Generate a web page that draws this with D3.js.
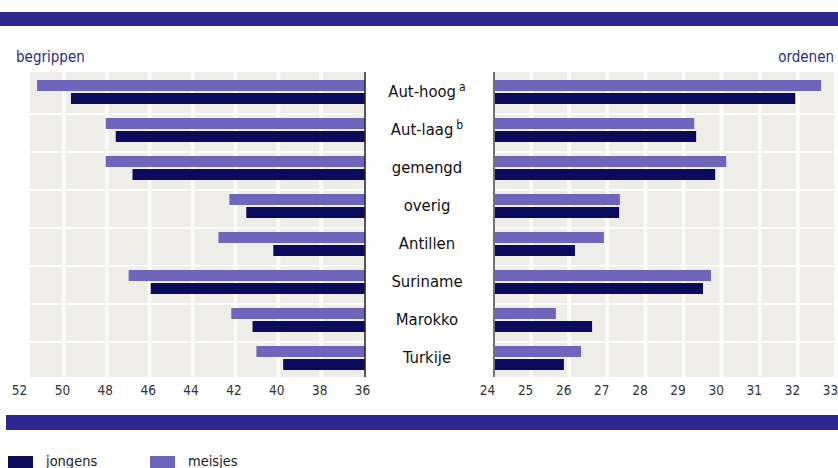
<!DOCTYPE html>
<html>
<head>
  <meta charset="utf-8">
  <script src="https://d3js.org/d3.v7.min.js"></script>
  <style>
    body { margin: 0; background: #fff; }
  </style>
</head>
<body>
<script>
var categories = ["Aut-hoog", "Aut-laag", "gemengd", "overig", "Antillen", "Suriname", "Marokko", "Turkije"];
var superscripts = ["a", "b", "", "", "", "", "", ""];
var begrippenMeisjes = [51.25, 48.05, 48.05, 42.28, 42.79, 46.98, 42.19, 41.02];
var begrippenJongens = [49.67, 47.58, 46.8, 41.49, 40.23, 45.95, 41.2, 39.77];
var ordenenMeisjes = [32.61, 29.28, 30.12, 27.33, 26.91, 29.72, 25.65, 26.31];
var ordenenJongens = [31.93, 29.33, 29.83, 27.31, 26.15, 29.51, 26.6, 25.86];
var leftTicks = [52, 50, 48, 46, 44, 42, 40, 38, 36];
var rightTicks = [24, 25, 26, 27, 28, 29, 30, 31, 32, 33];

var W = 838, H = 468;
var navy = "#0b0b5c", purple = "#6e66bc", band = "#2c2890";
var condensed = "'Liberation Sans Narrow', 'DejaVu Sans Condensed', sans-serif";

var svg = d3.select("body").append("svg")
  .attr("width", W)
  .attr("height", H);

// blue bands
svg.append("rect").attr("x", 0).attr("y", 12).attr("width", W).attr("height", 14).attr("fill", band);
svg.append("rect").attr("x", 6).attr("y", 415).attr("width", W - 6).attr("height", 15).attr("fill", band);

var xL = d3.scaleLinear().domain([52, 36]).range([21, 364]);
var xR = d3.scaleLinear().domain([24, 33]).range([493, 836]);
var y = d3.scaleBand().domain(categories).range([76, 380]).paddingInner(0).paddingOuter(0);

var panelTop = 72, panelBottom = 377;
var bg = "#efede7", gap = "#fbfbf9";

// panel backgrounds
svg.append("rect").attr("x", 30).attr("y", panelTop).attr("width", 335).attr("height", panelBottom - panelTop).attr("fill", bg);
svg.append("rect").attr("x", 494).attr("y", panelTop).attr("width", W - 494).attr("height", panelBottom - panelTop).attr("fill", bg);

svg.selectAll(".vgl").data(leftTicks.slice(1, -1)).enter().append("rect")
  .attr("x", function(d) { return xL(d) - 2; })
  .attr("y", panelTop).attr("width", 4).attr("height", panelBottom - panelTop).attr("fill", gap);
svg.selectAll(".vgr").data(rightTicks.slice(1)).enter().append("rect")
  .attr("x", function(d) { return xR(d) - 2; })
  .attr("y", panelTop).attr("width", 4).attr("height", panelBottom - panelTop).attr("fill", gap);

svg.selectAll(".hg").data(categories.slice(1)).enter().append("rect")
  .attr("x", 30).attr("width", W - 30)
  .attr("y", function(d) { return y(d) - 1; })
  .attr("height", 2).attr("fill", gap);
svg.append("rect").attr("x", 366).attr("y", 60).attr("width", 127).attr("height", 330).attr("fill", "#fff");

var bh = 11;

function bars(data, scale, base, offset, color, cls) {
  svg.selectAll("." + cls).data(data).enter().append("rect")
    .attr("class", cls)
    .attr("x", function(d) { return Math.min(base, scale(d)); })
    .attr("width", function(d) { return Math.abs(scale(d) - base); })
    .attr("y", function(d, i) { return y(categories[i]) + offset; })
    .attr("height", bh)
    .attr("fill", color);
}
bars(begrippenMeisjes, xL, 365, 4, purple, "lm");
bars(begrippenJongens, xL, 365, 17, navy, "lj");
bars(ordenenMeisjes, xR, 495, 4, purple, "rm");
bars(ordenenJongens, xR, 495, 17, navy, "rj");

// axis lines
svg.append("line").attr("x1", 365).attr("x2", 365).attr("y1", panelTop).attr("y2", panelBottom).attr("stroke", "#222").attr("stroke-width", 1.5);
svg.append("line").attr("x1", 494).attr("x2", 494).attr("y1", panelTop).attr("y2", panelBottom).attr("stroke", "#444").attr("stroke-width", 1.5);

// tick labels
var axL = svg.append("g").attr("transform", "translate(-2," + 385 + ")")
  .call(d3.axisBottom(xL).tickValues(leftTicks).tickSize(0).tickPadding(0));
var axR = svg.append("g").attr("transform", "translate(-6," + 385 + ")")
  .call(d3.axisBottom(xR).tickValues(rightTicks).tickSize(0).tickPadding(0));
[axL, axR].forEach(function(ax) {
  ax.select(".domain").remove();
  ax.selectAll("text")
    .attr("font-family", condensed)
    .attr("font-size", 13.5)
    .attr("fill", "#333");
});

// category labels
var lab = svg.selectAll(".cat").data(categories).enter().append("text")
  .attr("class", "cat")
  .attr("x", 427)
  .attr("y", function(d) { return y(d) + 21; })
  .attr("text-anchor", "middle")
  .attr("font-family", condensed)
  .attr("font-size", 16.5)
  .attr("fill", "#111");
lab.append("tspan").text(function(d) { return d; });
lab.append("tspan")
  .attr("dx", 3)
  .attr("dy", -6)
  .attr("font-size", 12)
  .text(function(d, i) { return superscripts[i]; });

// panel titles
svg.append("text").attr("x", 16).attr("y", 62).text("begrippen")
  .attr("font-family", condensed).attr("font-size", 15).attr("fill", "#2a2a88");
svg.append("text").attr("x", 834).attr("y", 62).attr("text-anchor", "end").text("ordenen")
  .attr("font-family", condensed).attr("font-size", 15).attr("fill", "#2a2a88");

// legend
var legend = [["jongens", navy, 8], ["meisjes", purple, 150]];
legend.forEach(function(l) {
  svg.append("rect").attr("x", l[2]).attr("y", 456).attr("width", 25).attr("height", 12).attr("fill", l[1]);
  svg.append("text").attr("x", l[2] + 38).attr("y", 466).text(l[0])
    .attr("font-family", condensed).attr("font-size", 14.5).attr("fill", "#222");
});
</script>
</body>
</html>
